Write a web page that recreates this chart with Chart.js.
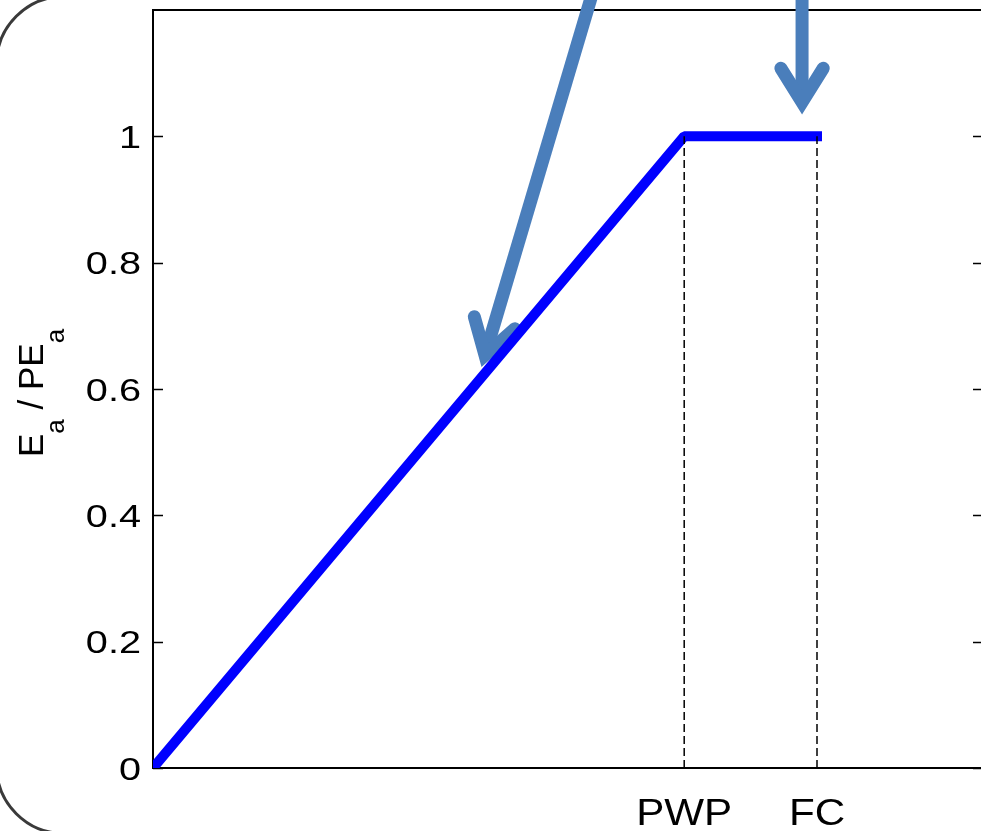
<!DOCTYPE html>
<html>
<head>
<meta charset="utf-8">
<script src="https://cdn.jsdelivr.net/npm/chart.js@4/dist/chart.umd.min.js"></script>
<style>
  html, body { margin: 0; padding: 0; background: #fff; overflow: hidden; width: 981px; height: 831px; }
  #wrap { position: relative; width: 981px; height: 831px; overflow: hidden; }
  #c { position: absolute; left: 0; top: 0; }
  #panel {
    position: absolute; left: -5px; top: -5px; width: 1200px; height: 840px;
    box-sizing: border-box; border: 3px solid #3a3a3a; border-radius: 69px;
    pointer-events: none;
  }
</style>
</head>
<body>
<div id="wrap">
  <canvas id="c" width="1000" height="831"></canvas>
  <div id="panel"></div>
</div>
<script>
// Relative soil water content and the ratio of actual to potential evaporation
const soilWater = [0, 0.64, 0.8];
const evapRatio = [0, 1, 1];

// Named soil-water thresholds on the x axis
const xTickValues = [0.64, 0.8];
const xTickLabels = ['PWP', 'FC'];

// y axis ticks
const yTickValues = [0, 0.2, 0.4, 0.6, 0.8, 1];
const yTickLabels = ['0', '0.2', '0.4', '0.6', '0.8', '1'];

// Vertical guides dropped from the curve's corners
const guideY = [0, 1];

// Callout arrows, tail and tip in data units: [tailX, tailY, tipX, tipY]
const arrowSlope = [0.546, 1.3, 0.4, 0.6535];
const arrowPlateau = [0.782, 1.3, 0.782, 1.054];

const FONT = '"Liberation Sans", Arial, sans-serif';

function drawArrow(ctx, xs, ys, a) {
  const x0 = xs.getPixelForValue(a[0]), y0 = ys.getPixelForValue(a[1]);
  const x1 = xs.getPixelForValue(a[2]), y1 = ys.getPixelForValue(a[3]);
  const back = Math.atan2(y0 - y1, x0 - x1);
  const len = 40, spread = 32 * Math.PI / 180;
  ctx.save();
  ctx.strokeStyle = '#4A7EBB';
  ctx.lineWidth = 13;
  ctx.lineCap = 'butt';
  ctx.beginPath();
  ctx.moveTo(x0, y0);
  ctx.lineTo(x1, y1);
  ctx.stroke();
  ctx.lineCap = 'round';
  ctx.lineJoin = 'miter';
  ctx.miterLimit = 10;
  ctx.beginPath();
  ctx.moveTo(x1 + len * Math.cos(back + spread), y1 + len * Math.sin(back + spread));
  ctx.lineTo(x1, y1);
  ctx.lineTo(x1 + len * Math.cos(back - spread), y1 + len * Math.sin(back - spread));
  ctx.stroke();
  ctx.restore();
}

// Box frame, inward ticks and callout arrows, drawn under the curve
const framePlugin = {
  id: 'frame',
  beforeDatasetsDraw(chart) {
    const { ctx, chartArea: a, scales: { x, y } } = chart;
    ctx.save();
    ctx.strokeStyle = '#000';
    ctx.lineWidth = 2;
    ctx.strokeRect(a.left, a.top, a.right - a.left, a.bottom - a.top);
    ctx.lineWidth = 1.5;
    ctx.beginPath();
    yTickValues.forEach(v => {
      const py = Math.round(y.getPixelForValue(v)) + 0.5;
      ctx.moveTo(a.left, py); ctx.lineTo(a.left + 10, py);
      ctx.moveTo(a.right, py); ctx.lineTo(a.right - 10, py);
    });
    ctx.stroke();
    ctx.restore();
    drawArrow(ctx, x, y, arrowSlope);
    drawArrow(ctx, x, y, arrowPlateau);
  },
  afterDraw(chart) {
    const { ctx, chartArea: a, scales: { x, y } } = chart;
    ctx.save();
    ctx.fillStyle = '#000';
    // y tick labels
    ctx.font = '32px ' + FONT;
    ctx.textAlign = 'right';
    ctx.textBaseline = 'alphabetic';
    yTickValues.forEach((v, i) => {
      ctx.save();
      ctx.translate(a.left - 12, y.getPixelForValue(v) + 11.5);
      ctx.scale(1.24, 1);
      ctx.fillText(yTickLabels[i], 0, 0);
      ctx.restore();
    });
    // x tick labels
    ctx.font = '37px ' + FONT;
    ctx.textAlign = 'center';
    xTickValues.forEach((v, i) => {
      ctx.save();
      ctx.translate(x.getPixelForValue(v), 825);
      ctx.scale(1.14, 1);
      ctx.fillText(xTickLabels[i], 0, 0);
      ctx.restore();
    });
    // y axis title E_a / PE_a
    ctx.translate(43, 457);
    ctx.rotate(-Math.PI / 2);
    ctx.textAlign = 'left';
    const parts = [['E', false], ['a', true], [' / PE', false], ['a', true]];
    let cx = 0;
    parts.forEach(([t, sub]) => {
      ctx.font = (sub ? '26px ' : '35px ') + FONT;
      ctx.fillText(t, cx, sub ? 21 : 0);
      cx += ctx.measureText(t).width;
    });
    ctx.restore();
  }
};

const guides = xTickValues.map(xv => ({
  data: guideY.map(v => ({ x: xv, y: v })),
  borderColor: '#000',
  borderWidth: 1.5,
  borderDash: [8, 4],
  pointRadius: 0,
  fill: false,
  order: 1
}));

new Chart(document.getElementById('c'), {
  type: 'line',
  data: {
    datasets: [
      {
        data: soilWater.map((sx, i) => ({ x: sx, y: evapRatio[i] })),
        borderColor: '#0000FF',
        borderWidth: 10,
        borderCapStyle: 'square',
        borderJoinStyle: 'bevel',
        pointRadius: 0,
        fill: false,
        tension: 0,
        clip: 0,
        order: 2
      },
      ...guides
    ]
  },
  options: {
    responsive: false,
    animation: false,
    devicePixelRatio: 1,
    events: [],
    layout: { padding: { left: 0, top: 10, right: 17, bottom: 0 } },
    plugins: { legend: { display: false }, tooltip: { enabled: false } },
    scales: {
      x: {
        type: 'linear', min: 0, max: 1,
        grid: { display: false }, border: { display: false },
        ticks: { display: false },
        afterFit: s => { s.height = 63; }
      },
      y: {
        type: 'linear', min: 0, max: 1.2,
        grid: { display: false }, border: { display: false },
        ticks: { display: false, stepSize: 0.2 },
        afterFit: s => { s.width = 153; }
      }
    }
  },
  plugins: [framePlugin]
});
</script>
</body>
</html>
